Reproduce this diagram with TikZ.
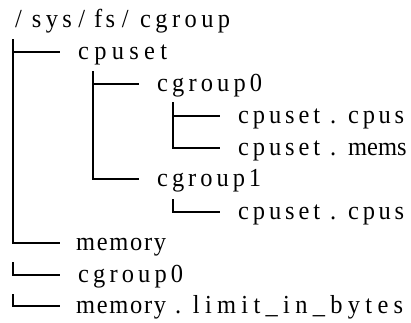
\documentclass[tikz,border=0pt]{standalone}
\usepackage{fontspec}
\setmainfont{Liberation Serif}[FakeStretch=0.94]
\def\endmono{\endmonomarker}
\def\spreadnext#1{\ifx#1\endmono\else\hfil#1\expandafter\spreadnext\fi}
\def\spreadfirst#1{#1\spreadnext}
\newcommand\spread[2]{\makebox[#1][s]{\spreadfirst#2\endmono}}
\newcommand\seg[3]{\rlap{\hspace*{#1pt}\spread{#2pt}{#3}}}
\newcommand\segc[2]{\rlap{\hspace*{#1pt}#2}}
\begin{document}
\begin{tikzpicture}[x=1pt,y=-1pt,
  lbl/.style={anchor=base west,inner sep=0pt,font=\fontsize{26}{26}\selectfont},
  br/.style={line width=2pt,line cap=rect}]
\useasboundingbox (0,0) rectangle (411,322);
\def\dy{7}
\node[lbl] (root) at (15,27) {\segc{0}{/}\seg{16.7}{40}{sys}\segc{63.3}{/}\seg{79}{21}{fs}\segc{106.7}{/}\seg{125}{90}{cgroup}\hspace*{215pt}};
\node[lbl] (cpuset) at (78,52+\dy) {\seg{0}{89}{cpuset}\hspace*{89pt}};
\node[lbl] (cg0) at (157,84+\dy) {\seg{0}{105}{cgroup0}\hspace*{105pt}};
\node[lbl] (cpus0) at (238,116+\dy) {\seg{0}{82}{cpuset}\segc{92}{.}\seg{110}{56}{cpus}\hspace*{166pt}};
\node[lbl] (mems0) at (238,148+\dy) {\seg{0}{82}{cpuset}\segc{92}{.}\seg{110}{57}{mems}\hspace*{167pt}};
\node[lbl] (cg1) at (157,179+\dy) {\seg{0}{104}{cgroup1}\hspace*{104pt}};
\node[lbl] (cpus1) at (238,212+\dy) {\seg{0}{82}{cpuset}\segc{92}{.}\seg{110}{56}{cpus}\hspace*{166pt}};
\node[lbl] (memory) at (76,243+\dy) {\seg{0}{90}{memory}\hspace*{90pt}};
\node[lbl] (mcg0) at (78,275+\dy) {\seg{0}{105}{cgroup0}\hspace*{105pt}};
\node[lbl] (limit) at (76,306+\dy) {\seg{0}{90}{memory}\segc{99}{.}\seg{116.7}{210.3}{limit\_in\_bytes}\hspace*{327pt}};
\coordinate (v1) at (13,40);
\coordinate (v2) at (93,72);
\coordinate (v3) at (173,103);
\coordinate (v4) at (173,200);
\coordinate (v5) at (13,263);
\coordinate (v6) at (13,295);
\draw[br] (v1) |- ([xshift=-19pt]cpuset.west |- 0,52);
\draw[br] (v1) |- ([xshift=-17pt]memory.west |- 0,243);
\draw[br] (v2) |- ([xshift=-19pt]cg0.west |- 0,84);
\draw[br] (v2) |- ([xshift=-19pt]cg1.west |- 0,179);
\draw[br] (v3) |- ([xshift=-19pt]cpus0.west |- 0,116);
\draw[br] (v3) |- ([xshift=-19pt]mems0.west |- 0,148);
\draw[br] (v4) |- ([xshift=-19pt]cpus1.west |- 0,212);
\draw[br] (v5) |- ([xshift=-19pt]mcg0.west |- 0,275);
\draw[br] (v6) |- ([xshift=-17pt]limit.west |- 0,306);
\end{tikzpicture}
\end{document}
